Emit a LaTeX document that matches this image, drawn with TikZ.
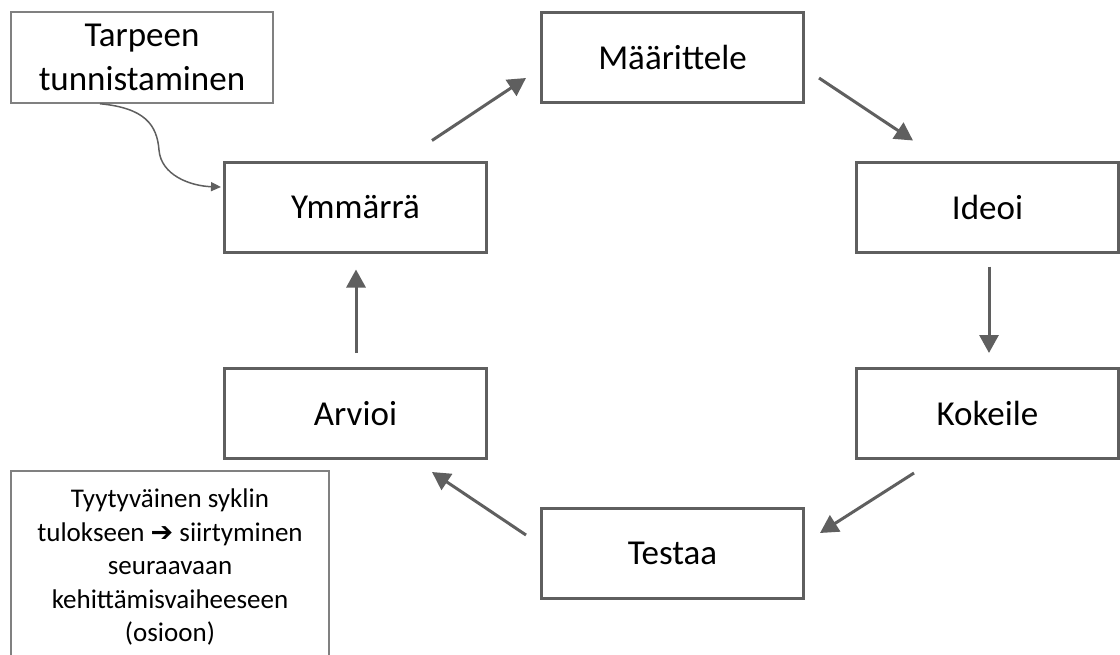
\documentclass[tikz,border=0pt]{standalone}
\usepackage{fontspec}
\setmainfont{Carlito}
\newfontfamily\symfont{DejaVu Sans}
\usetikzlibrary{arrows.meta}
\definecolor{edgegray}{HTML}{5F5F5F}
\definecolor{notegray}{HTML}{808080}
\tikzset{
  stage/.style={draw=edgegray, line width=3pt, fill=white, minimum width=262pt,
    minimum height=90pt, inner sep=0pt, font=\fontsize{35}{42}\selectfont},
  notebox/.style={draw=notegray, line width=1.5pt, fill=white, inner sep=0pt},
  flow/.style={draw=edgegray, line width=3pt, -{Triangle[length=18pt,width=19pt]}},
  feed/.style={draw=edgegray, line width=1.5pt, -{Triangle[length=10pt,width=9pt]}},
}
\begin{document}
\begin{tikzpicture}[x=1pt, y=-1pt]
\useasboundingbox (0,0) rectangle (1120,654);
\clip (0,0) rectangle (1120,654);

% cycle stages
\node[stage] (maar) at (672.5,57.5)  {Määrittele};
\node[stage] (ideo) at (987.5,207)   {Ideoi};
\node[stage] (koke) at (987.5,413.5) {Kokeile};
\node[stage] (test) at (672.5,553)   {Testaa};
\node[stage] (arvi) at (355.5,413.5) {Arvioi};
\node[stage] (ymma) at (355.5,207)   {Ymmärrä};

% starting note
\node[notebox, minimum width=262pt, minimum height=91pt, align=center,
      font=\fontsize{35}{44}\selectfont] (need) at (142,57.5)
  {Tarpeen\\tunnistaminen};

% exit note (runs past the lower edge)
\draw[notegray, line width=1.5pt, fill=white] (11,670) -- (11,471) -- (329,471) -- (329,670);
\node[inner sep=0pt, align=center, anchor=north,
      font=\fontsize{27}{33.5}\selectfont] (exit) at (170,489)
  {Tyytyväinen syklin\\tulokseen {\symfont\bfseries ➔} siirtyminen\\seuraavaan\\kehittämisvaiheeseen\\(osioon)};

% cycle arrows
\draw[flow] ([shift={(76.5,-20)}]ymma.north) -- ([shift={(-14,20.5)}]maar.west);
\draw[flow] ([shift={(14,20.5)}]maar.east) -- ([shift={(-74.5,-20)}]ideo.north);
\draw[flow] ([shift={(1.5,13)}]ideo.south) -- ([shift={(1.5,-14)}]koke.north);
\draw[flow] ([shift={(-73.5,13)}]koke.south) -- ([shift={(15,-20)}]test.east);
\draw[flow] ([shift={(-14,-18)}]test.west) -- ([shift={(76.5,12)}]arvi.south);
\draw[flow] ([shift={(0.5,-14)}]arvi.north) -- ([shift={(0.5,16)}]ymma.south);

% entry into the cycle
\coordinate (bend) at (159,150);
\draw[feed] ([shift={(-42,0)}]need.south) .. controls (145,108) and (157,125) .. (bend)
  .. controls (161,175) and (190,186) .. ([shift={(-2,-20)}]ymma.west);
\end{tikzpicture}
\end{document}
